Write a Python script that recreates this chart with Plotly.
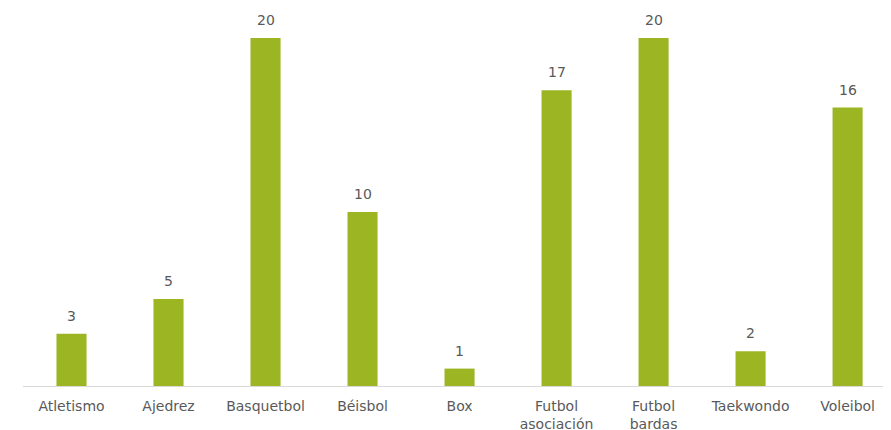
import plotly.graph_objects as go

categories = ["Atletismo", "Ajedrez", "Basquetbol", "Béisbol", "Box",
              "Futbol<br>asociación", "Futbol<br>bardas", "Taekwondo", "Voleibol"]
values = [3, 5, 20, 10, 1, 17, 20, 2, 16]

fig = go.Figure(go.Bar(
    x=categories, y=values,
    marker=dict(color="#9BB523", line=dict(width=0)),
    width=0.31,
))

for c, v in zip(categories, values):
    fig.add_annotation(x=c, y=v, text=str(v), showarrow=False,
                       yanchor="bottom", yshift=8,
                       font=dict(family="DejaVu Sans", size=14, color="#595959"))

fig.update_layout(
    width=891, height=430,
    margin=dict(l=15, r=0, t=0, b=52),
    paper_bgcolor="white", plot_bgcolor="white",
    showlegend=False,
    xaxis=dict(range=[-0.5, 8.53], showline=True, linecolor="#D9D9D9", linewidth=1,
               ticks="", showgrid=False, zeroline=False, ticklabelstandoff=7,
               tickfont=dict(family="DejaVu Sans", size=14, color="#595959")),
    yaxis=dict(range=[0, 21.72], visible=False, showgrid=False, zeroline=False),
)

fig.write_html("out.html")
